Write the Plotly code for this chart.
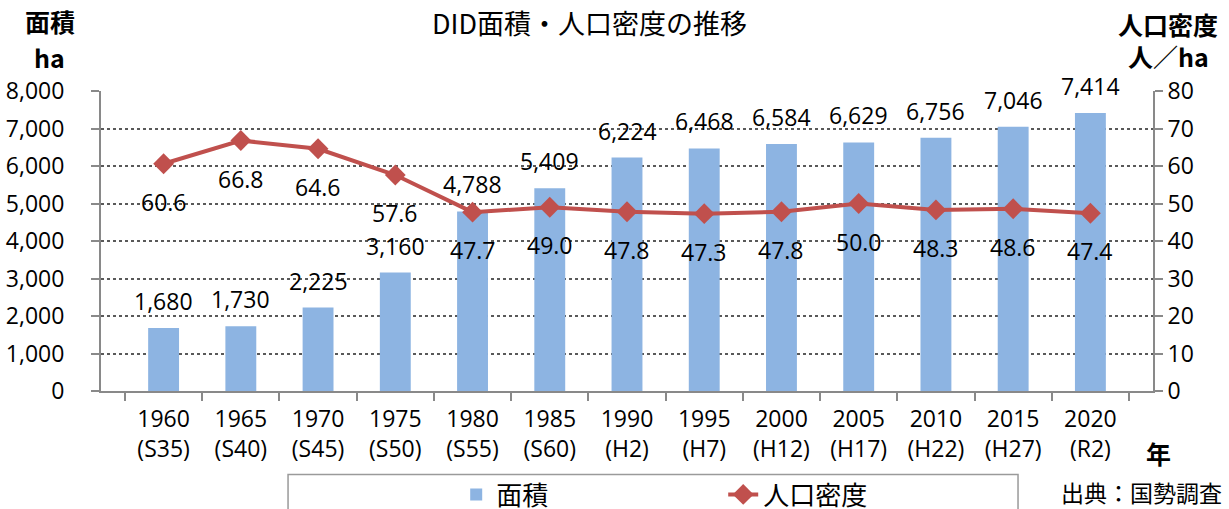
import plotly.graph_objects as go

years = ["1960", "1965", "1970", "1975", "1980", "1985", "1990", "1995", "2000", "2005", "2010", "2015", "2020"]
eras = ["S35", "S40", "S45", "S50", "S55", "S60", "H2", "H7", "H12", "H17", "H22", "H27", "R2"]
area_ha = [1680, 1730, 2225, 3160, 4788, 5409, 6224, 6468, 6584, 6629, 6756, 7046, 7414]
density = [60.6, 66.8, 64.6, 57.6, 47.7, 49.0, 47.8, 47.3, 47.8, 50.0, 48.3, 48.6, 47.4]

categories = [f"{y}<br>({e})" for y, e in zip(years, eras)]

NUM_FONT = "Open Sans, Noto Sans CJK JP"
CJK_FONT = "Noto Sans CJK JP"
BAR_COLOR = "#8DB4E2"
LINE_COLOR = "#C0504D"
AXIS_COLOR = "#898989"

fig = go.Figure()
fig.add_trace(go.Bar(
    x=categories, y=area_ha, name="面積", marker=dict(color=BAR_COLOR, line=dict(width=0)),
    width=0.4, yaxis="y",
))
fig.add_trace(go.Scatter(
    x=categories, y=density, name="人口密度", mode="lines+markers", yaxis="y2",
    line=dict(color=LINE_COLOR, width=4),
    marker=dict(symbol="diamond", size=16, color=LINE_COLOR),
))

annotations = []
for xv, v in zip(categories, area_ha):
    annotations.append(dict(x=xv, y=v, xref="x", yref="y", text=f"{v:,}", showarrow=False,
                            yanchor="middle", yshift=27, font=dict(family=NUM_FONT, size=23, color="#000")))
for xv, v in zip(categories, density):
    annotations.append(dict(x=xv, y=v, xref="x", yref="y2", text=f"{v:.1f}", showarrow=False,
                            yanchor="middle", yshift=-38, font=dict(family=NUM_FONT, size=23, color="#000")))

def txt(x, y, s, size, bold=False, font=CJK_FONT, xanchor="center"):
    return dict(x=x, y=y, xref="paper", yref="paper", text=(f"<b>{s}</b>" if bold else s),
                showarrow=False, xanchor=xanchor, yanchor="middle",
                font=dict(family=font, size=size, color="#000"))

annotations += [
    txt(-0.0485, 1.232, "面積", 25, True),
    txt(-0.0485, 1.115, "ha", 25, True),
    txt(1.0143, 1.222, "人口密度", 25, True),
    txt(1.0143, 1.118, "人／ha", 25, True),
    txt(1.0048, -0.205, "年", 25, True),
    txt(0.9895, -0.338, "出典：国勢調査", 23, False),
    txt(0.4639, 1.228, "DID面積・人口密度の推移", 27, False),
]

fig.update_layout(
    width=1229, height=509,
    margin=dict(l=101, r=76, t=91, b=118, autoexpand=False),
    paper_bgcolor="white", plot_bgcolor="white",
    showlegend=True,
    legend=dict(orientation="h", xref="container", yref="container",
                x=0.3712, xanchor="left", y=0.0747, yanchor="top",
                font=dict(family=CJK_FONT, size=26, color="#000"),
                entrywidth=222, entrywidthmode="pixels", bgcolor="rgba(0,0,0,0)"),
    xaxis=dict(type="category",
               tickson="boundaries", ticks="outside", ticklen=8, tickcolor=AXIS_COLOR, tickwidth=1.5,
               showline=True, linecolor=AXIS_COLOR, linewidth=2, showgrid=False,
               tickfont=dict(family=NUM_FONT, size=23, color="#000"), ticklabelstandoff=6),
    yaxis=dict(range=[0, 8000], dtick=1000, tickformat=",", ticks="outside", ticklen=8,
               tickcolor=AXIS_COLOR, tickwidth=1.5, showline=True, linecolor=AXIS_COLOR, linewidth=2,
               showgrid=True, gridcolor="#595959", griddash="dot", gridwidth=1.5, zeroline=False,
               tickfont=dict(family=NUM_FONT, size=23, color="#000"), ticklabelstandoff=22),
    yaxis2=dict(range=[0, 80], dtick=10, overlaying="y", side="right", ticks="outside", ticklen=8,
                tickcolor=AXIS_COLOR, tickwidth=1.5, showline=True, linecolor=AXIS_COLOR, linewidth=2,
                showgrid=False, zeroline=False,
                tickfont=dict(family=NUM_FONT, size=23, color="#000")),
    annotations=annotations,
    shapes=[dict(type="rect", xref="paper", yref="paper", x0=0.1778, x1=0.8717, y0=-0.42, y1=-0.278,
                 line=dict(color="#9a9a9a", width=1.5), fillcolor="rgba(0,0,0,0)", layer="above")],
)

fig.write_html("out.html", config={"displayModeBar": False},
               post_script="document.body.style.margin='0';")
